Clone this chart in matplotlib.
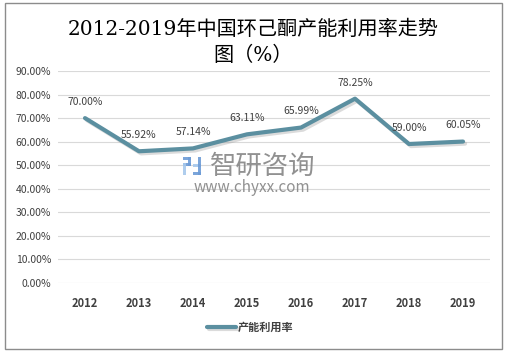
import matplotlib
matplotlib.use("Agg")
import matplotlib.pyplot as plt
from matplotlib.patches import Rectangle
import matplotlib.patheffects as pe

plt.rcParams['font.family'] = ['Noto Sans CJK SC', 'DejaVu Sans']

years = ['2012', '2013', '2014', '2015', '2016', '2017', '2018', '2019']
rates = [70.00, 55.92, 57.14, 63.11, 65.99, 78.25, 59.00, 60.05]
yticks = [0, 10, 20, 30, 40, 50, 60, 70, 80, 90]
title_line1 = '2012-2019年中国环己酮产能利用率走势'
title_line2 = '图（%）'
series_name = '产能利用率'

W, H = 506, 354
fig = plt.figure(figsize=(W/100, H/100), dpi=100)
fig.patch.set_facecolor('white')

# outer frame
fig.add_artist(Rectangle((5/W, 5/H), 497/W, 346/H, transform=fig.transFigure,
                         fill=False, edgecolor='#8c8c8c', linewidth=1.0))

ax = fig.add_axes([58/W, 1-283/H, (490-58)/W, (283-71)/H])
x = list(range(len(years)))
color = '#5b8fa0'
ax.plot(x, rates, color=color, linewidth=3.0, solid_capstyle='round',
        label=series_name,
        path_effects=[pe.SimpleLineShadow(offset=(1.5, -1.5), shadow_color='#999999', alpha=0.35),
                      pe.Normal()], zorder=3)
for xi, v in zip(x, rates):
    ax.annotate(f'{v:.2f}%', (xi, v), xytext=(0, 8), textcoords='offset points',
                ha='center', va='bottom', fontsize=7.5, color='#404040')

ax.set_xlim(-0.5, len(years) - 0.5)
ax.set_ylim(0, 90)
ax.set_yticks(yticks)
ax.set_yticklabels([f'{t:.2f}%' for t in yticks], fontsize=7.5, color='#404040')
ax.set_xticks(x)
ax.set_xticklabels(years, fontsize=8, fontweight='bold', color='#404040')
ax.tick_params(length=0, pad=10)
ax.tick_params(axis='y', pad=5)
ax.grid(axis='y', color='#d9d9d9', linewidth=0.8)
ax.set_axisbelow(True)
for s in ax.spines.values():
    s.set_visible(False)

tfam = ['DejaVu Serif', 'Noto Sans CJK SC']
fig.text(253/W, 1-29/H, title_line1, ha='center', va='center', fontsize=14.5,
         family=tfam, fontweight='medium', color='#000000')
fig.text(253/W, 1-55/H, title_line2, ha='center', va='center', fontsize=14.5,
         family=tfam, fontweight='medium', color='#000000')

# watermark
logo_c1, logo_c2 = '#6d9bd6', '#a6c8ec'
for (lx, ly, lw, lh, c) in [(183, 157, 8, 3, logo_c1), (188, 157, 3, 9, logo_c1),
                             (183, 163, 8, 3, logo_c1), (183, 163, 3, 12, logo_c2),
                             (193, 164, 8, 3, logo_c2), (198, 157, 3, 18, logo_c1),
                             (193, 172, 8, 3, logo_c1)]:
    fig.add_artist(Rectangle((lx/W, 1-(ly+lh)/H), lw/W, lh/H, transform=fig.transFigure,
                             facecolor=c, edgecolor='none', alpha=0.9))
fig.text(263/W, 1-166/H, '智研咨询', ha='center', va='center', fontsize=19,
         color='#858585', alpha=0.9)
fig.text(252/W, 1-188/H, 'www.chyxx.com', ha='center', va='center', fontsize=11,
         color='#858585', alpha=0.9)

leg = fig.legend(loc='center', bbox_to_anchor=(250/W, 1-327/H), frameon=False,
                 prop={'size': 8, 'weight': 'bold'}, handlelength=2.6, handletextpad=0.2)
for t in leg.get_texts():
    t.set_color('#404040')

fig.savefig('out.png', dpi=100, facecolor='white')
